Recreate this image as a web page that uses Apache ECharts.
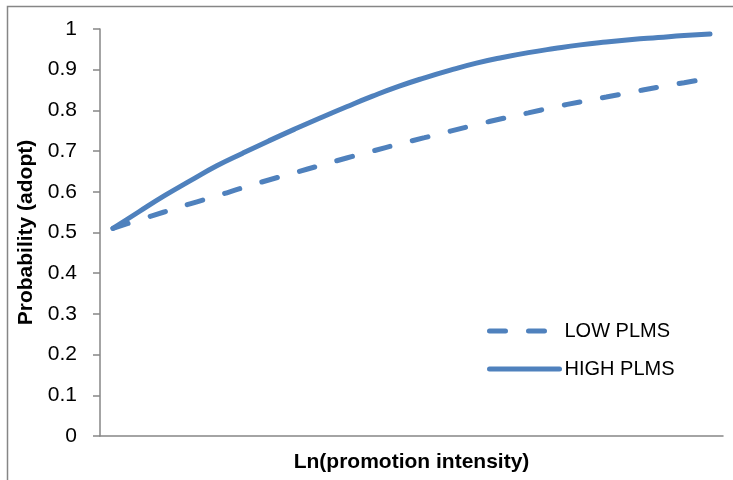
<!DOCTYPE html>
<html>
<head>
<meta charset="utf-8">
<script src="https://cdn.jsdelivr.net/npm/echarts@6/dist/echarts.min.js"></script>
<style>
html,body{margin:0;padding:0;background:#fff;}
#c{width:733px;height:480px;}
</style>
</head>
<body>
<div id="c"></div>
<script>
var categories = ['1','2','3','4','5','6','7','8','9','10','11','12','13','14','15','16','17','18','19','20','21','22','23','24'];
var lowPLMS = [0.510,0.531,0.551,0.571,0.590,0.610,0.629,0.647,0.665,0.683,0.700,0.717,0.733,0.749,0.765,0.780,0.794,0.808,0.821,0.833,0.845,0.857,0.868,0.879];
var highPLMS = [0.510,0.551,0.591,0.628,0.664,0.695,0.725,0.754,0.782,0.809,0.835,0.859,0.880,0.899,0.916,0.930,0.942,0.952,0.961,0.968,0.974,0.979,0.984,0.988];
var seriesNames = ['LOW PLMS','HIGH PLMS'];
var xTitle = 'Ln(promotion intensity)';
var yTitle = 'Probability (adopt)';

var color = '#4F81BD';
var axisColor = '#868686';
var chart = echarts.init(document.getElementById('c'));
chart.setOption({
  animation: false,
  graphic: [{
    type: 'rect', left: 5, top: 4,
    shape: {width: 800, height: 600},
    style: {fill: 'none', stroke: axisColor, lineWidth: 1.5},
    silent: true, z: -10
  }],
  grid: {left: 100, right: 10, top: 29, bottom: 44},
  legend: {
    orient: 'vertical', left: 482, top: 316,
    itemWidth: 70, itemHeight: 14, itemGap: 18,
    itemStyle: {opacity: 0},
    lineStyle: {width: 5, cap: 'round'},
    textStyle: {fontFamily: 'Liberation Sans', fontSize: 20, color: '#000'},
    data: seriesNames
  },
  xAxis: {
    type: 'category', data: categories, boundaryGap: true,
    axisLine: {lineStyle: {color: axisColor, width: 1.5}},
    axisTick: {show: false}, axisLabel: {show: false}, splitLine: {show: false},
    name: xTitle, nameLocation: 'middle', nameGap: 16,
    nameTextStyle: {fontFamily: 'Liberation Sans', fontWeight: 'bold', fontSize: 21, color: '#000'}
  },
  yAxis: {
    type: 'value', min: 0, max: 1, interval: 0.1,
    axisLine: {show: true, lineStyle: {color: axisColor, width: 1.5}},
    axisTick: {show: true, length: 7, lineStyle: {color: axisColor, width: 1.5}},
    axisLabel: {margin: 23, fontFamily: 'Liberation Sans', fontSize: 21, color: '#000'},
    splitLine: {show: false},
    name: yTitle, nameLocation: 'middle', nameGap: 62,
    nameTextStyle: {fontFamily: 'Liberation Sans', fontWeight: 'bold', fontSize: 21, color: '#000'}
  },
  series: [{
    name: seriesNames[0], type: 'line', data: lowPLMS, smooth: true,
    symbol: 'none', color: color,
    lineStyle: {color: color, width: 5, type: [16, 23], cap: 'round'}
  }, {
    name: seriesNames[1], type: 'line', data: highPLMS, smooth: true,
    symbol: 'none', color: color,
    lineStyle: {color: color, width: 5, cap: 'round'}
  }]
});
</script>
</body>
</html>
